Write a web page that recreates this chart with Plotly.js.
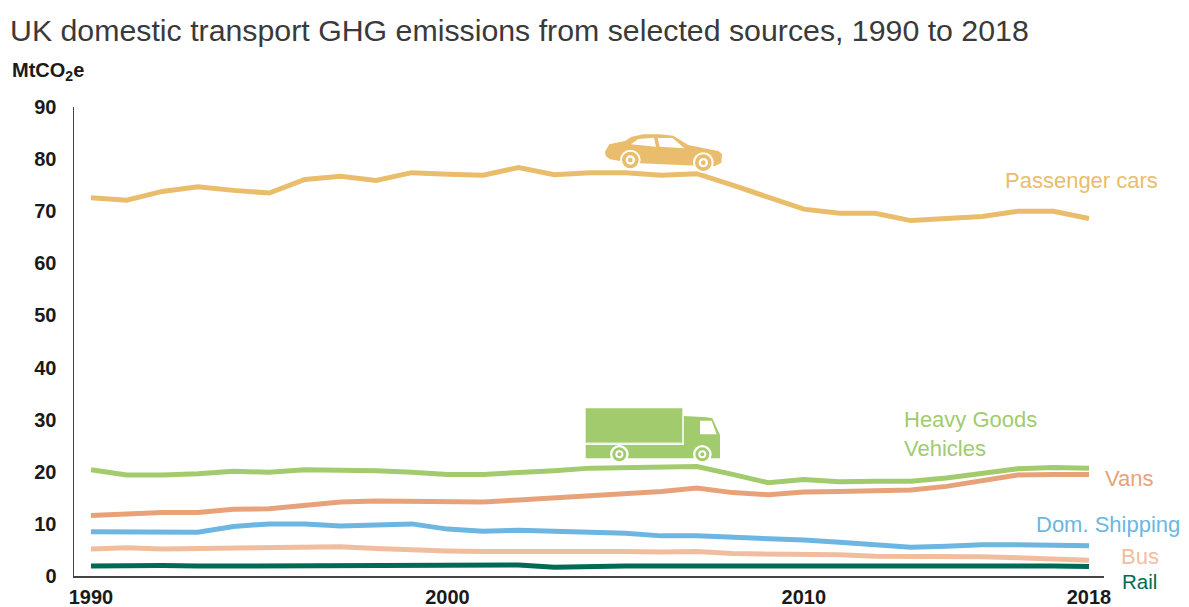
<!DOCTYPE html>
<html><head><meta charset="utf-8">
<script src="https://cdn.plot.ly/plotly-3.0.1.min.js"></script>
<style>html,body{margin:0;padding:0;background:#fff}</style></head>
<body><div id="chart" style="width:1189px;height:607px"></div>
<script>
const years = [1990,1991,1992,1993,1994,1995,1996,1997,1998,1999,2000,2001,2002,2003,2004,2005,2006,2007,2008,2009,2010,2011,2012,2013,2014,2015,2016,2017,2018];
const cars = [72.6,72.1,73.8,74.7,74,73.5,76.1,76.7,75.9,77.4,77.1,76.9,78.4,77,77.4,77.4,76.9,77.2,75,72.7,70.4,69.6,69.6,68.2,68.5,69,70,70,68.6];
const hgv = [20.4,19.4,19.4,19.6,20.1,19.9,20.4,20.4,20.2,19.9,19.5,19.5,19.8,20.2,20.7,20.8,20.8,21,19.5,17.9,18.5,18.1,18.2,18.2,18.8,19.8,20.6,20.8,20.7];
const vans = [11.6,11.9,12.2,12.2,12.8,12.9,13.6,14.2,14.4,14.3,14.2,14.2,14.6,15,15.5,15.9,16.2,16.9,16,15.6,16.1,16.2,16.3,16.5,17.2,18.2,19.4,19.5,19.5];
const shipping = [8.5,8.4,8.4,8.4,9.5,10,10,9.6,9.8,10,9,8.6,8.8,8.5,8.4,8.2,7.7,7.7,7.5,7.3,6.9,6.5,6,5.5,5.7,6,6,5.9,5.8];
const bus = [5.2,5.4,5.2,5.3,5.4,5.4,5.6,5.6,5.3,5,4.8,4.7,4.7,4.9,4.7,4.7,4.6,4.7,4.3,4.3,4.3,4.1,3.8,3.8,3.8,3.7,3.5,3.2,3];
const rail = [1.9,2,2,1.9,1.9,1.9,2,2.1,2.1,2.1,2.1,2.1,2.1,1.7,1.9,1.9,1.9,1.9,1.9,1.9,1.9,2,2,2.1,2.1,2,2,1.9,1.8];
const yTicks = [0,10,20,30,40,50,60,70,80,90];
const xTicks = [1990,2000,2010,2018];

const COL = {cars:'#E9BD6B',hgv:'#A2CB6E',vans:'#E8A279',ship:'#6CB6E1',bus:'#F0BE9F',rail:'#006B54'};
const FONT = '"Liberation Sans", Arial, sans-serif';
const L=74, R=1104, T=107, B=576;
const fx = p => (p-L)/(R-L), fy = p => (B-p)/(B-T);

function line(y,c,name){return {x:years,y:y,type:'scatter',mode:'lines',name:name,line:{color:c,width:5},hoverinfo:'skip'};}
const traces=[line(cars,COL.cars,'Passenger cars'),line(hgv,COL.hgv,'Heavy Goods Vehicles'),line(vans,COL.vans,'Vans'),
 line(shipping,COL.ship,'Dom. Shipping'),line(bus,COL.bus,'Bus'),line(rail,COL.rail,'Rail')];

// Decorative icons: outlines in 3x zoom units relative to an origin in the page
function poly(pts,ox,oy,fill){
  const d=pts.map((p,i)=>(i?'L':'M')+fx(ox+p[0]/3).toFixed(5)+','+fy(oy+p[1]/3).toFixed(5)).join(' ')+' Z';
  return {type:'path',xref:'paper',yref:'paper',path:d,fillcolor:fill,line:{width:0},layer:'above'};
}
function circ(zx,zy,zr,ox,oy,fill){
  const cx=ox+zx/3,cy=oy+zy/3,r=zr/3;
  return {type:'circle',xref:'paper',yref:'paper',x0:fx(cx-r),x1:fx(cx+r),y0:fy(cy+r),y1:fy(cy-r),fillcolor:fill,line:{width:0},layer:'above'};
}
function wheel(zx,zy,rs,c,ox,oy){
  return [circ(zx,zy,rs[0],ox,oy,'#fff'),circ(zx,zy,rs[1],ox,oy,c),circ(zx,zy,rs[2],ox,oy,'#fff'),circ(zx,zy,rs[3],ox,oy,c)];
}
const carO=[560,110], trkO=[560,390];
const carBody=[[135,125],[148,103],[175,97],[195,93],[215,80],[250,73],[300,73],[340,77],[385,105],[440,116],[475,123],[486,132],[484,158],[465,168],[430,168],[240,160],[185,154],[150,148],[137,138]];
const carWinA=[[213,103],[235,87],[282,83],[288,110]];
const carWinB=[[293,84],[338,84],[373,115],[299,110]];
const trkBox=[[77,55],[367,55],[367,158],[77,158]];
const trkGap=[[367,78],[372,78],[372,163],[77,163],[77,158],[367,158]];
const trkBase=[[77,165],[372,165],[372,78],[440,82],[457,85],[480,135],[480,205],[77,205]];
const trkWin=[[420,92],[455,92],[470,133],[420,133]];
const shapes=[
 poly(carBody,...carO,COL.cars),poly(carWinA,...carO,'#fff'),poly(carWinB,...carO,'#fff'),
 ...wheel(211,150,[31,25,14,7],COL.cars,...carO),...wheel(430,158,[31,25,14,7],COL.cars,...carO),
 poly(trkBase,...trkO,COL.hgv),poly(trkBox,...trkO,COL.hgv),poly(trkGap,...trkO,'#EAF3DC'),poly(trkWin,...trkO,'#fff'),
 ...wheel(178,193,[28,21,12,6],COL.hgv,...trkO),...wheel(427,193,[28,21,12,6],COL.hgv,...trkO)
];

function label(text,px,py,c,size){return {xref:'paper',yref:'paper',x:fx(px),y:fy(py),text:text,showarrow:false,xanchor:'left',yanchor:'middle',align:'left',font:{family:FONT,size:size||22,color:c}};}
const annotations=[
 label('Passenger cars',1003,180,COL.cars),
 label('Heavy Goods',902,419,COL.hgv),
 label('Vehicles',902,448,COL.hgv),
 label('Vans',1103,478,COL.vans),
 label('Dom. Shipping',1034,524,COL.ship),
 label('Bus',1119,556,COL.bus),
 label('Rail',1120,581,COL.rail,20.5),
 label('<b>MtCO<sub>2</sub>e</b>',10,71,'#1a1a1a',20)
];

Plotly.newPlot('chart',traces,{
 width:1189,height:607,showlegend:false,paper_bgcolor:'#fff',plot_bgcolor:'#fff',
 margin:{l:L,r:1189-R,t:T,b:607-B,pad:0},
 title:{text:'UK domestic transport GHG emissions from selected sources, 1990 to 2018',x:10/1189,xanchor:'left',xref:'container',y:1-30/607,yref:'container',yanchor:'middle',font:{family:FONT,size:30.3,color:'#3a3a3a'}},
 xaxis:{range:[1990-17/35.64,2018+15/35.64],tickmode:'array',tickvals:xTicks,ticktext:xTicks.map(String),showgrid:false,zeroline:false,showline:true,linecolor:'#444',linewidth:1.5,ticks:'',ticklen:0,ticklabelstandoff:2,tickfont:{family:FONT,size:20,color:'#1a1a1a',weight:700},anchor:'y'},
 yaxis:{range:[0,90],tickmode:'array',tickvals:yTicks,showgrid:false,zeroline:false,showline:true,linecolor:'#444',linewidth:1.5,ticks:'',ticklen:0,ticklabelstandoff:12,tickfont:{family:FONT,size:20,color:'#1a1a1a',weight:700}},
 shapes:shapes,annotations:annotations
},{displayModeBar:false,staticPlot:true});
</script></body></html>
